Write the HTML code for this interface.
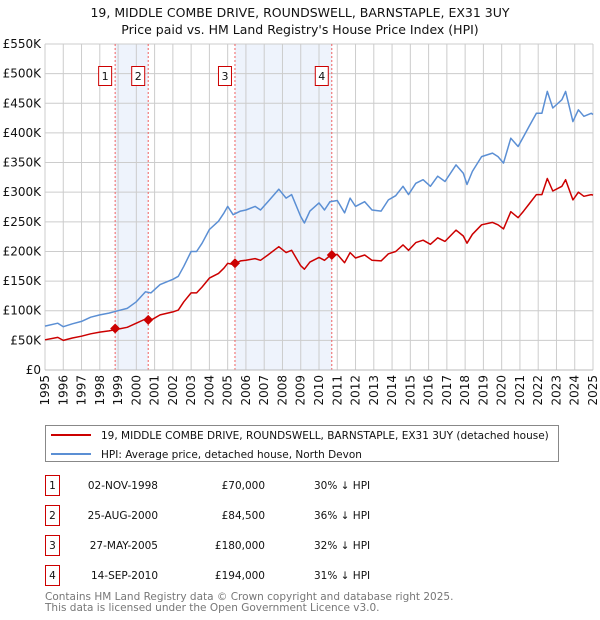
<!DOCTYPE html>
<html><head><meta charset="utf-8"><style>
body{margin:0;background:#fff;font-family:"DejaVu Sans","Liberation Sans",sans-serif;}
svg{display:block}
</style></head><body>
<svg width="600" height="620" viewBox="0 0 600 620" xmlns="http://www.w3.org/2000/svg">
<text x="300" y="17" text-anchor="middle" font-size="12.5" fill="#111">19, MIDDLE COMBE DRIVE, ROUNDSWELL, BARNSTAPLE, EX31 3UY</text>
<text x="300" y="34" text-anchor="middle" font-size="12.5" fill="#111">Price paid vs. HM Land Registry's House Price Index (HPI)</text>
<g id="plot"></g>
<g>
<rect x="45.5" y="425.5" width="513" height="36" fill="#fff" stroke="#888"/>
<line x1="51" y1="435" x2="91" y2="435" stroke="#cc0000" stroke-width="2"/>
<text x="101" y="439" font-size="10.5" fill="#111">19, MIDDLE COMBE DRIVE, ROUNDSWELL, BARNSTAPLE, EX31 3UY (detached house)</text>
<line x1="51" y1="454" x2="91" y2="454" stroke="#5b8fd4" stroke-width="2"/>
<text x="101" y="458" font-size="10.5" fill="#111">HPI: Average price, detached house, North Devon</text>
</g>
<g font-size="10.5" fill="#111">
<g><rect x="45.5" y="475.5" width="14" height="20" fill="none" stroke="#cc0000"/><text x="52.5" y="489" text-anchor="middle">1</text><text x="158" y="489" text-anchor="end">02-NOV-1998</text><text x="265" y="489" text-anchor="end">£70,000</text><text x="314" y="489">30% ↓ HPI</text></g>
<g><rect x="45.5" y="505.5" width="14" height="20" fill="none" stroke="#cc0000"/><text x="52.5" y="519" text-anchor="middle">2</text><text x="158" y="519" text-anchor="end">25-AUG-2000</text><text x="265" y="519" text-anchor="end">£84,500</text><text x="314" y="519">36% ↓ HPI</text></g>
<g><rect x="45.5" y="535.5" width="14" height="20" fill="none" stroke="#cc0000"/><text x="52.5" y="549" text-anchor="middle">3</text><text x="158" y="549" text-anchor="end">27-MAY-2005</text><text x="265" y="549" text-anchor="end">£180,000</text><text x="314" y="549">32% ↓ HPI</text></g>
<g><rect x="45.5" y="565.5" width="14" height="20" fill="none" stroke="#cc0000"/><text x="52.5" y="579" text-anchor="middle">4</text><text x="158" y="579" text-anchor="end">14-SEP-2010</text><text x="265" y="579" text-anchor="end">£194,000</text><text x="314" y="579">31% ↓ HPI</text></g>
</g>
<text x="45" y="600" font-size="10.5" fill="#777">Contains HM Land Registry data © Crown copyright and database right 2025.</text>
<text x="45" y="611" font-size="10.5" fill="#777">This data is licensed under the Open Government Licence v3.0.</text>
</svg>
<script>
const years=[1995,1995.7,1996,1996.5,1997,1997.5,1998,1998.5,1999,1999.5,2000,2000.5,2000.8,2001.3,2002,2002.3,2002.6,2003,2003.3,2003.6,2004,2004.5,2004.8,2005,2005.3,2005.7,2006,2006.5,2006.8,2007.2,2007.8,2008.2,2008.5,2009,2009.2,2009.5,2010,2010.3,2010.6,2011,2011.4,2011.7,2012,2012.5,2012.9,2013.4,2013.8,2014.2,2014.6,2014.9,2015.3,2015.7,2016.1,2016.5,2016.9,2017.5,2017.9,2018.1,2018.4,2018.9,2019.5,2019.8,2020.1,2020.5,2020.9,2021.2,2021.5,2021.9,2022.2,2022.5,2022.8,2023.3,2023.5,2023.9,2024.2,2024.5,2024.9,2025];
const hpiValues=[74,79,73,78,82,89,93,96,100,104,115,132,130,144,153,158,175,200,200,214,237,251,265,276,262,268,270,276,270,284,305,290,296,259,248,268,282,270,284,286,265,290,276,284,270,268,287,294,310,296,315,321,310,327,318,346,332,313,335,360,366,360,349,391,377,394,411,433,433,470,442,456,470,419,439,428,433,431];
const priceValues=[51,55,50,54,57,61,64,66,69,72,79,86,84,93,98,101,115,130,130,140,155,163,172,180,178,184,185,188,185,194,208,198,202,176,170,182,190,185,193,195,181,198,189,194,185,184,196,200,211,202,215,219,212,223,217,236,226,214,229,245,249,245,238,267,257,268,280,296,296,323,302,310,321,287,300,293,296,295];
const saleYears=[1998.84,2000.65,2005.4,2010.7];
const salePrices=[70,84.5,180,194];
const saleLabels=["1","2","3","4"];
const yTicks=[0,50,100,150,200,250,300,350,400,450,500,550];
const yTickLabels=["£0","£50K","£100K","£150K","£200K","£250K","£300K","£350K","£400K","£450K","£500K","£550K"];
const xTicks=[1995,1996,1997,1998,1999,2000,2001,2002,2003,2004,2005,2006,2007,2008,2009,2010,2011,2012,2013,2014,2015,2016,2017,2018,2019,2020,2021,2022,2023,2024,2025];

const NS="http://www.w3.org/2000/svg";
const L=45,R=593,T=44,B=370;
const xs=y=>L+(y-1995)/30*(R-L);
const ys=v=>B-v/550*(B-T);
const g=document.getElementById('plot');
function mk(tag,attrs,parent){const e=document.createElementNS(NS,tag);for(const k in attrs)e.setAttribute(k,attrs[k]);(parent||g).appendChild(e);return e;}

const sh1=mk('rect',{x:xs(saleYears[0]),y:T,width:xs(saleYears[1])-xs(saleYears[0]),height:B-T,fill:'#eef3fc'});


const sh2=mk('rect',{x:xs(saleYears[2]),y:T,width:xs(saleYears[3])-xs(saleYears[2]),height:B-T,fill:'#eef3fc'});



yTicks.forEach((v,i)=>{
  const ln=mk('line',{x1:L,x2:R,y1:ys(v),y2:ys(v),stroke:'#ccc','stroke-width':1});
  
  
  const t=mk('text',{x:L-4,y:ys(v)+4,'text-anchor':'end','font-size':12,fill:'#111'});
  t.textContent=yTickLabels[i];
  
  
});
xTicks.forEach(yr=>{
  const ln=mk('line',{x1:xs(yr),x2:xs(yr),y1:T,y2:B,stroke:'#ccc','stroke-width':1});
  
  
  const t=mk('text',{x:0,y:0,'text-anchor':'end','font-size':12,fill:'#111',transform:`translate(${xs(yr)+4},${B+5}) rotate(-90)`});
  t.textContent=yr;
  
  
});
saleYears.forEach((yr,i)=>{
  const ln=mk('line',{x1:xs(yr),x2:xs(yr),y1:T,y2:B,stroke:'#f06060','stroke-width':1,'stroke-dasharray':'2,2'});
  
  
  const bx=mk('rect',{x:xs(yr)-16.5,y:66.5,width:13,height:19,fill:'#fff',stroke:'#cc0000'});
  
  
  const t=mk('text',{x:xs(yr)-10,y:80,'text-anchor':'middle','font-size':11,fill:'#111'});
  t.textContent=saleLabels[i];
  
  
});
const pts=a=>a.map((v,i)=>xs(years[i]).toFixed(1)+','+ys(v).toFixed(1)).join(' ');
const hp=mk('polyline',{points:pts(hpiValues),fill:'none',stroke:'#5b8fd4','stroke-width':1.5,'stroke-linejoin':'round'});


const pp=mk('polyline',{points:pts(priceValues),fill:'none',stroke:'#cc0000','stroke-width':1.5,'stroke-linejoin':'round'});


saleYears.forEach((yr,i)=>{
  const x=xs(yr),y=ys(salePrices[i]);
  const d=mk('polygon',{points:`${x},${y-5} ${x+5},${y} ${x},${y+5} ${x-5},${y}`,fill:'#cc0000'});
  
  
});
const ax=mk('line',{x1:L,x2:R,y1:B,y2:B,stroke:'#bbb'});


</script>
</body></html>
